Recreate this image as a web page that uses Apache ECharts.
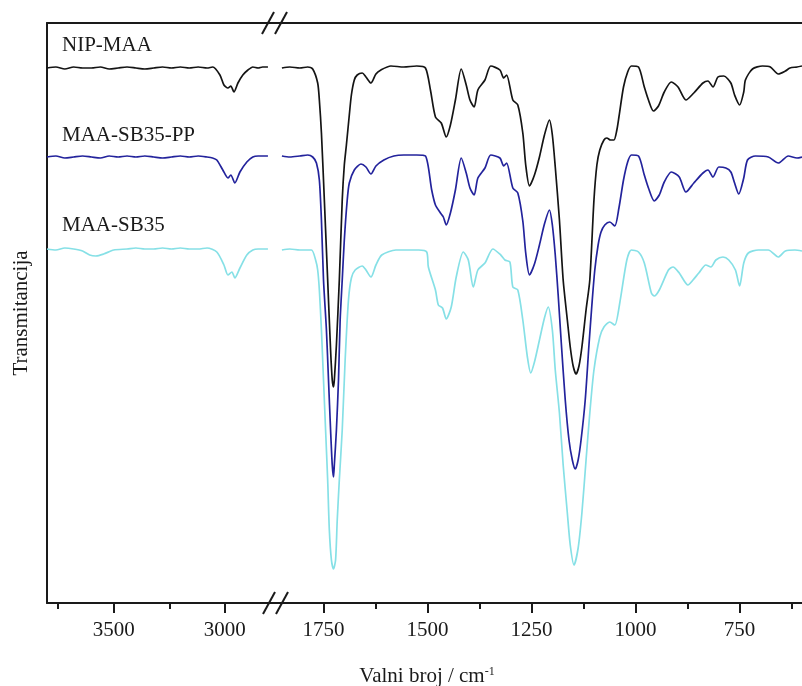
<!DOCTYPE html>
<html><head><meta charset="utf-8">
<script src="https://cdn.jsdelivr.net/npm/echarts@6/dist/echarts.min.js"></script>
<style>html,body{margin:0;padding:0;background:#fff}#c{width:802px;height:686px}</style>
</head><body><div id="c"></div>
<script>
// ---- data: [wavenumber cm^-1, transmittance (offset, arbitrary units)] ----
const seriesNames = ['NIP-MAA', 'MAA-SB35-PP', 'MAA-SB35'];

const nipLeft = [[3800,107],[3760,107.2],[3720,106.8],[3680,107.2],[3640,107],[3600,107],[3560,107.2],[3520,106.8],[3480,107],[3440,107.2],[3400,107],[3360,106.8],[3320,107],[3280,107.2],[3240,107],[3200,107.2],[3160,107],[3120,107.2],[3080,107],[3054,107.2],[3022,105.6],[3004,103.6],[2986,103],[2973,103.4],[2959,102.2],[2941,104],[2919,105.6],[2896,106.6],[2874,107.2],[2850,107],[2830,107.2],[2806,107.2]];
const nipRight = [[1850,107],[1831,107.2],[1807,107],[1788,107.2],[1776,106.8],[1764,104],[1760,100.6],[1755,94],[1748,80.6],[1740,64.6],[1733,50.6],[1729,44.6],[1726,43.2],[1724,44.6],[1719,51.6],[1712,64.6],[1705,80.6],[1700,87.6],[1695,91.6],[1688,97.6],[1683,101.6],[1676,104.6],[1669,105.6],[1657,106],[1648,105.2],[1636,104],[1624,105.8],[1612,106.6],[1588,107.4],[1557,107.2],[1526,107.4],[1505,107],[1493,102.6],[1481,97.2],[1467,96],[1455,93.2],[1445,95.6],[1433,100.6],[1419,106.8],[1407,103.6],[1398,100.6],[1388,99.2],[1379,102.6],[1362,104.6],[1348,107.4],[1326,106.6],[1317,105],[1310,105.6],[1295,100.6],[1283,99.6],[1271,94],[1264,87.6],[1255,83.4],[1243,85.6],[1231,89.2],[1219,93.6],[1207,96.6],[1200,93.6],[1193,87.2],[1183,76.6],[1174,64.6],[1164,56.6],[1157,51.2],[1150,47.4],[1143,45.8],[1136,47.4],[1129,51.2],[1119,58.6],[1110,64.6],[1100,80.6],[1093,87.6],[1086,90.6],[1076,92.6],[1069,93],[1060,92.6],[1052,92.6],[1045,94.6],[1040,97.2],[1029,103.2],[1019,106.2],[1010,107.4],[993,107.2],[979,103.2],[969,100.6],[957,98.4],[945,99.4],[931,102.2],[914,104.2],[898,103.2],[879,100.6],[860,102],[838,104],[826,104.4],[814,103.2],[802,105.2],[788,105.4],[771,104],[762,101.6],[750,99.6],[740,102.2],[736,104.6],[719,106.8],[695,107.4],[676,107.2],[657,105.8],[640,106.4],[629,107],[612,107.2],[600,107.4]];

const ppLeft = [[3800,89.2],[3760,89.4],[3720,89],[3680,89.2],[3640,89.4],[3600,89.2],[3560,89],[3520,89.4],[3480,89.2],[3440,89.4],[3400,89.2],[3360,89.4],[3320,89.2],[3280,89],[3240,89.2],[3200,89.4],[3160,89.2],[3120,89.4],[3080,89.2],[3055,89],[3036,88.6],[3009,86.6],[2986,85],[2973,85.6],[2955,84],[2932,86.2],[2901,88.2],[2874,89.2],[2850,89.4],[2806,89.4]];
const ppRight = [[1850,89.4],[1831,89.2],[1807,89.4],[1788,89.6],[1776,89.2],[1767,88],[1760,84.6],[1755,76.6],[1750,64.6],[1743,54.6],[1738,44.6],[1733,34.6],[1729,27.6],[1726,25.2],[1724,27.6],[1719,34.6],[1714,44.6],[1710,56.6],[1705,64.6],[1700,72.6],[1693,80.6],[1688,84],[1676,86.6],[1660,87.8],[1648,87.2],[1636,85.8],[1624,87.4],[1605,88.6],[1581,89.4],[1557,89.6],[1526,89.6],[1505,89.4],[1490,82.6],[1481,79.6],[1469,78],[1462,77.2],[1455,75.6],[1445,78],[1433,82.6],[1419,89],[1407,86],[1398,83],[1388,81.6],[1379,85],[1362,87],[1348,89.6],[1326,89],[1317,87.4],[1310,88],[1295,83],[1283,82],[1271,76.4],[1264,70],[1255,65.6],[1243,67.8],[1231,71.6],[1219,75.8],[1207,78.6],[1200,75.6],[1193,69.6],[1186,61.6],[1179,52.6],[1169,40.6],[1160,32.6],[1152,28.6],[1145,26.8],[1138,28.6],[1131,32.6],[1121,40.6],[1112,51.6],[1105,59.6],[1098,66.6],[1090,71.6],[1083,74.2],[1074,75.6],[1062,76.2],[1050,75.4],[1040,79],[1029,84.6],[1019,88.2],[1010,89.6],[993,89.4],[979,85.6],[969,83],[955,80.4],[943,81.6],[931,84.2],[914,86.2],[895,85.2],[879,82.2],[860,84],[838,86],[826,86.6],[814,85.2],[800,87.2],[783,87],[771,86.2],[762,84],[752,81.8],[740,85],[731,88.6],[712,89.4],[681,89.2],[657,88],[633,89.4],[612,89],[600,89.2]];

const sbLeft = [[3800,70.8],[3760,70.6],[3720,71],[3680,70.8],[3640,70.4],[3608,69.6],[3580,69.4],[3545,69.8],[3500,70.6],[3440,70.8],[3400,71],[3360,70.8],[3320,70.8],[3280,71],[3240,70.8],[3200,71],[3160,70.8],[3120,70.8],[3080,71],[3036,70.2],[3004,67.6],[2986,65.6],[2968,66.2],[2955,65],[2932,67],[2901,69.6],[2874,70.6],[2850,70.8],[2806,70.8]];
const sbRight = [[1850,70.6],[1831,70.8],[1807,70.6],[1779,70.6],[1769,68.6],[1764,66.6],[1760,62.6],[1755,54.6],[1750,44.6],[1745,34.6],[1740,24.6],[1736,14.6],[1731,8.6],[1726,6.8],[1721,8.6],[1717,16.6],[1712,24.6],[1705,34.6],[1698,48.6],[1690,60.6],[1683,65],[1674,66.6],[1657,67.4],[1648,66.6],[1636,65.2],[1624,67.6],[1610,69.6],[1576,70.6],[1521,70.6],[1502,70.2],[1498,67.2],[1481,62.6],[1474,59.6],[1464,59],[1455,56.8],[1443,59.2],[1431,65.2],[1414,70.2],[1402,68.6],[1390,63.2],[1379,66.6],[1362,68],[1343,70.8],[1324,69.6],[1314,68.6],[1302,68.2],[1295,63.2],[1283,62.6],[1271,56.6],[1260,49.2],[1252,46],[1243,48.2],[1231,52.6],[1219,57],[1210,59.2],[1200,54.6],[1193,46.6],[1183,38],[1174,27.6],[1164,18],[1157,11.6],[1148,7.6],[1138,11],[1129,18],[1119,28.6],[1110,38],[1100,46.6],[1086,53.2],[1076,55.2],[1062,56.2],[1050,55.6],[1038,60],[1021,68.6],[1010,70.6],[993,70.2],[979,68],[962,62],[955,61.4],[943,62.6],[921,66.6],[910,67.2],[895,66],[874,63.6],[862,64.6],[848,66],[831,67.6],[819,67.2],[807,68.6],[790,69.2],[776,68.6],[760,66.6],[750,63.4],[740,68],[729,70],[705,70.6],[681,70.6],[657,69.2],[640,70.4],[617,70.6],[600,70.4]];

const majorLeft = [3500, 3000];
const minorLeft = [3750, 3250];
const majorRight = [1750, 1500, 1250, 1000, 750];
const minorRight = [1625, 1375, 1125, 875, 625];

// ---- chart ----
const FONT = '"Liberation Serif","Times New Roman",serif';
const INK = '#1a1a1a';
const colors = ['#141414', '#23239c', '#86e0e6'];

function xAxes(gridIndex, min, max, major, minor) {
  const common = { type: 'value', gridIndex, min, max, inverse: true, splitLine: { show: false } };
  return [
    Object.assign({}, common, {
      position: 'bottom',
      axisLine: { show: true, lineStyle: { color: INK, width: 2 } },
      axisTick: { show: true, customValues: major, length: 10, lineStyle: { color: INK, width: 2 } },
      axisLabel: { show: true, customValues: major, margin: 17, color: INK, fontFamily: FONT, fontSize: 21,
        formatter: v => String(v) }
    }),
    Object.assign({}, common, {
      position: 'bottom',
      axisLine: { show: false },
      axisTick: { show: true, customValues: minor, length: 6, lineStyle: { color: INK, width: 2 } },
      axisLabel: { show: false }
    }),
    Object.assign({}, common, {
      position: 'top',
      axisLine: { show: true, lineStyle: { color: INK, width: 2 } },
      axisTick: { show: false },
      axisLabel: { show: false }
    })
  ];
}

const segs = [[sbLeft, sbRight, 2], [ppLeft, ppRight, 1], [nipLeft, nipRight, 0]];
const series = [];
segs.forEach(([l, r, ci]) => {
  [[l, 0, 0], [r, 3, 1]].forEach(([d, xi, yi]) => {
    series.push({
      name: seriesNames[ci], type: 'line', xAxisIndex: xi, yAxisIndex: yi,
      data: d, showSymbol: false, smooth: 0.25, animation: false,
      lineStyle: { color: colors[ci], width: 1.7 }, itemStyle: { color: colors[ci] }
    });
  });
});

function slash(x1, y1, x2, y2) {
  return { type: 'line', shape: { x1, y1, x2, y2 }, style: { stroke: INK, lineWidth: 2 }, z: 100 };
}
const labelY = [45, 135, 225];

const option = {
  backgroundColor: '#fff',
  animation: false,
  grid: [
    { left: 47, right: 530.5, top: 23, bottom: 83 },
    { left: 271.5, right: -5, top: 23, bottom: 83 }
  ],
  xAxis: [].concat(xAxes(0, 2790, 3800, majorLeft, minorLeft), xAxes(1, 600, 1875, majorRight, minorRight)),
  yAxis: [
    { type: 'value', gridIndex: 0, min: 0, max: 116,
      name: 'Transmitancija', nameLocation: 'middle', nameGap: 15,
      nameTextStyle: { color: INK, fontFamily: FONT, fontSize: 21 },
      axisLine: { show: true, lineStyle: { color: INK, width: 2 } },
      axisTick: { show: false }, axisLabel: { show: false }, splitLine: { show: false } },
    { type: 'value', gridIndex: 1, min: 0, max: 116, show: false, splitLine: { show: false } }
  ],
  series,
  graphic: [
    slash(263, 614, 275, 592), slash(276, 614, 288, 592),
    slash(262, 34, 274, 12), slash(275, 34, 287, 12),
    { type: 'text', x: 427, y: 676, z: 100,
      style: { text: '{a|Valni broj / cm}{s|-1}', align: 'center', verticalAlign: 'middle', fill: INK,
        rich: { a: { fontFamily: FONT, fontSize: 21, fill: INK }, s: { fontFamily: FONT, fontSize: 12, verticalAlign: 'top', fill: INK } } } }
  ].concat(seriesNames.map((n, i) => ({
    type: 'text', x: 62, y: labelY[i], z: 100,
    style: { text: n, fill: INK, font: '21px ' + FONT, verticalAlign: 'middle' }
  })))
};

const chart = echarts.init(document.getElementById('c'));
chart.setOption(option);
</script>
</body></html>
